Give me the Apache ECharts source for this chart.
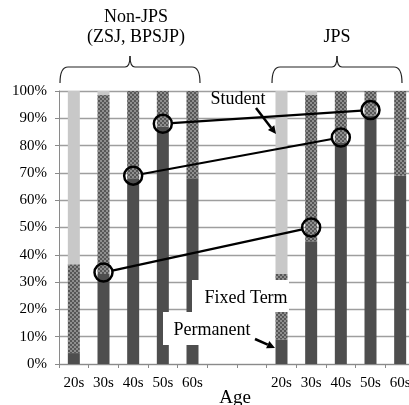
<!DOCTYPE html>
<html><head><meta charset="utf-8">
<script src="https://cdn.jsdelivr.net/npm/echarts@6/dist/echarts.min.js"></script>
<style>html,body{margin:0;padding:0;background:#fff}#c{width:409px;height:405px}</style>
</head><body><div id="c"></div>
<script>
// ---- data ----
const ages = ['20s', '30s', '40s', '50s', '60s'];
const gapCategories = ['', ''];
const nonJpsPermanent = [4, 33, 68, 87, 68];
const nonJpsFixed     = [32.5, 65.5, 32, 13, 32];
const nonJpsStudent   = [63.5, 1.5, 0, 0, 0];
const jpsPermanent    = [9, 45, 81, 91, 69];
const jpsFixed        = [24, 53.5, 19, 9, 31];
const jpsStudent      = [67, 1.5, 0, 0, 0];
const markerAges      = ['30s', '40s', '50s'];
const nonJpsMarker    = [33.5, 69, 88];
const jpsMarker       = [50, 83, 93];
const yTickValues     = [0, 10, 20, 30, 40, 50, 60, 70, 80, 90, 100];

// ---- build ----
const categories = ages.concat(gapCategories, ages);
const jpsOffset = ages.length + gapCategories.length;
const gapNull = gapCategories.map(() => null);
const permanent = nonJpsPermanent.concat(gapNull, jpsPermanent);
const fixed = nonJpsFixed.concat(gapNull, jpsFixed);
const student = nonJpsStudent.concat(gapNull, jpsStudent);
const connections = markerAges.map((a, i) => [ages.indexOf(a), nonJpsMarker[i], jpsOffset + ages.indexOf(a), jpsMarker[i]]);

const pc = document.createElement('canvas');
pc.width = 4; pc.height = 4;
const g = pc.getContext('2d');
g.fillStyle = '#565656'; g.fillRect(0, 0, 4, 4);
g.fillStyle = '#8e8e8e'; g.fillRect(0, 0, 2, 2); g.fillRect(2, 2, 2, 2);

const FONT = '"Liberation Serif", "DejaVu Serif", serif';
const chart = echarts.init(document.getElementById('c'), null, {renderer: 'canvas'});

function txt(text, x, y, size) {
  return {type: 'text', z: 101, x: x, y: y,
    style: {text: text, font: size + 'px ' + FONT, fill: '#000', align: 'center', verticalAlign: 'middle',
            textAlign: 'center', textVerticalAlign: 'middle'}};
}
function rect(x, y, w, h) {
  return {type: 'rect', z: 100, shape: {x: x, y: y, width: w, height: h}, style: {fill: '#fff'}};
}
function arrow(x1, y1, x2, y2) {
  const dx = x2 - x1, dy = y2 - y1, L = Math.hypot(dx, dy), ux = dx / L, uy = dy / L;
  const hl = 8, hw = 4;
  const bx = x2 - ux * hl, by = y2 - uy * hl;
  return [
    {type: 'line', z: 101, shape: {x1: x1, y1: y1, x2: bx, y2: by}, style: {stroke: '#000', lineWidth: 2.5}},
    {type: 'polygon', z: 101, shape: {points: [[x2, y2], [bx - uy * hw, by + ux * hw], [bx + uy * hw, by - ux * hw]]}, style: {fill: '#000'}}
  ];
}
function bracket(x1, x2, yTop, yMid, yEnd) {
  const c = (x1 + x2) / 2;
  const st = {stroke: '#222', lineWidth: 1.2, fill: null};
  const curve = (ax, ay, cx, cy, bx, by) => ({type: 'bezierCurve', z: 101,
    shape: {x1: ax, y1: ay, cpx1: cx, cpy1: cy, x2: bx, y2: by}, style: st});
  const line = (ax, ay, bx, by) => ({type: 'line', z: 101, shape: {x1: ax, y1: ay, x2: bx, y2: by}, style: st});
  return [
    curve(x1, yEnd, x1, yMid, x1 + 8, yMid),
    line(x1 + 8, yMid, c - 5, yMid),
    curve(c - 5, yMid, c, yMid, c, yTop),
    curve(c, yTop, c, yMid, c + 5, yMid),
    line(c + 5, yMid, x2 - 8, yMid),
    curve(x2 - 8, yMid, x2, yMid, x2, yEnd)
  ];
}

const graphics = [
  rect(192, 280, 97, 32),
  rect(163, 312, 112, 33),
  txt('Fixed Term', 246, 298, 18),
  txt('Permanent', 212, 330, 18),
  txt('Student', 238, 99, 18),
  txt('Non-JPS', 136, 17, 18),
  txt('(ZSJ, BPSJP)', 136, 37, 18),
  txt('JPS', 337, 37, 18),
  txt('Age', 235, 398, 19)
].concat(bracket(60, 200, 56, 67, 83), bracket(272, 402, 56, 67, 83),
         arrow(256, 108, 276, 134), arrow(255, 339, 275, 348));

chart.setOption({
  animation: false,
  backgroundColor: '#fff',
  grid: {left: 59, top: 91, width: 356, height: 273, containLabel: false, outerBoundsMode: 'none'},
  xAxis: {
    type: 'category', data: categories,
    axisLine: {lineStyle: {color: '#8a8a8a', width: 1}},
    axisTick: {show: true, length: 4, lineStyle: {color: '#8a8a8a'}},
    axisLabel: {interval: 0, margin: 12, fontFamily: FONT, fontSize: 15, color: '#000'}
  },
  yAxis: {
    type: 'value', min: 0, max: 100, interval: 10,
    axisLine: {show: true, lineStyle: {color: '#8a8a8a', width: 1}},
    axisTick: {show: true, length: 4, lineStyle: {color: '#8a8a8a'}},
    splitLine: {lineStyle: {color: '#9e9e9e', width: 1.3}},
    axisLabel: {margin: 12, fontFamily: FONT, fontSize: 15, color: '#000',
      formatter: v => (yTickValues.indexOf(v) >= 0 ? v + '%' : '')}
  },
  series: [
    {name: 'Permanent', type: 'bar', stack: 'total', barWidth: 12, data: permanent,
     itemStyle: {color: '#4e4e4e'}},
    {name: 'Fixed Term', type: 'bar', stack: 'total', barWidth: 12, data: fixed,
     itemStyle: {color: {image: pc, repeat: 'repeat'}}},
    {name: 'Student', type: 'bar', stack: 'total', barWidth: 12, data: student,
     itemStyle: {color: '#c8c8c8'}},
    {name: 'Links', type: 'custom', z: 10, data: connections, encode: {x: [0, 2], y: [1, 3]},
     renderItem: function (params, api) {
       const p1 = api.coord([api.value(0), api.value(1)]);
       const p2 = api.coord([api.value(2), api.value(3)]);
       const r = 9;
       const dx = p2[0] - p1[0], dy = p2[1] - p1[1], L = Math.hypot(dx, dy), ux = dx / L, uy = dy / L;
       return {type: 'group', children: [
         {type: 'line', shape: {x1: p1[0] + ux * r, y1: p1[1] + uy * r, x2: p2[0] - ux * r, y2: p2[1] - uy * r},
          style: {stroke: '#000', lineWidth: 2.2}},
         {type: 'circle', shape: {cx: p1[0], cy: p1[1], r: r}, style: {fill: null, stroke: '#000', lineWidth: 2.5}},
         {type: 'circle', shape: {cx: p2[0], cy: p2[1], r: r}, style: {fill: null, stroke: '#000', lineWidth: 2.5}}
       ]};
     }}
  ],
  graphic: graphics
});
</script>
</body></html>
